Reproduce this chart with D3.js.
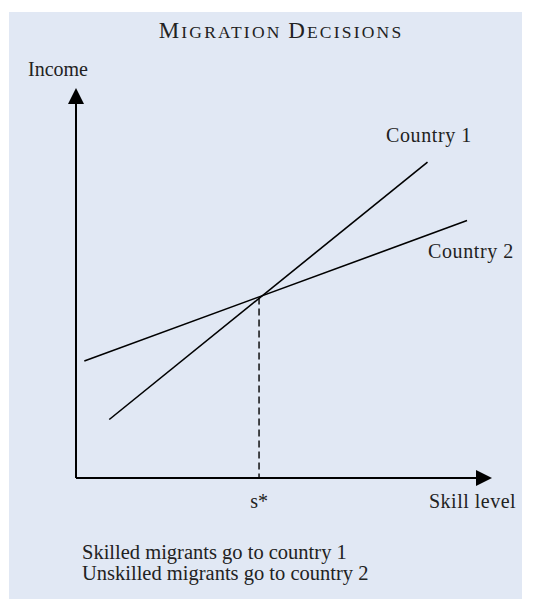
<!DOCTYPE html>
<html>
<head>
<meta charset="utf-8">
<script src="https://cdn.jsdelivr.net/npm/d3@7"></script>
<style>
  body { margin: 0; background: #fff; }
  svg text { font-family: "Liberation Serif", "Times New Roman", serif; fill: #222; }
</style>
</head>
<body>
<script>
//chart values
var countries = ["Country 1", "Country 2"];
var skill1 = [0.8, 8.45],  income1 = [1.5, 8.1];   //country 1 income line
var skill2 = [0.2, 9.4],   income2 = [3.0, 6.6];   //country 2 income line
var sStar = 4.4, incomeAtS = 4.63;                 //crossing point
var axisLabels = ["Skill level", "Income"];
var notes = ["Skilled migrants go to country 1", "Unskilled migrants go to country 2"];

window.onload = drawChart();

function drawChart(){

    var width = 547,
        height = 599;

    var svg = d3.select("body")
        .append("svg")
        .attr("width", width)
        .attr("height", height);

    //light blue panel
    svg.append("rect")
        .attr("x", 9)
        .attr("y", 12)
        .attr("width", 513)
        .attr("height", 590)
        .attr("fill", "#e1e8f4");

    //title in small caps
    var title = svg.append("text")
        .attr("x", 281)
        .attr("y", 38)
        .attr("text-anchor", "middle")
        .attr("letter-spacing", 2.2)
        .attr("fill", "#222");
    title.append("tspan").attr("font-size", 23).text("M");
    title.append("tspan").attr("font-size", 17.5).text("IGRATION ");
    title.append("tspan").attr("font-size", 23).text("D");
    title.append("tspan").attr("font-size", 17.5).text("ECISIONS");

    //scales
    var x = d3.scaleLinear().domain([0, 10]).range([76, 492]);
    var y = d3.scaleLinear().domain([0, 10]).range([478, 88]);

    //axes
    svg.append("line")
        .attr("x1", x(0)).attr("y1", y(0))
        .attr("x2", x(0)).attr("y2", y(10) + 14)
        .attr("stroke", "#000").attr("stroke-width", 2);
    svg.append("line")
        .attr("x1", x(0)).attr("y1", y(0))
        .attr("x2", x(10) - 14).attr("y2", y(0))
        .attr("stroke", "#000").attr("stroke-width", 2);

    //arrow heads
    svg.append("path")
        .attr("d", "M" + x(0) + "," + y(10) + "L" + (x(0) - 8) + "," + (y(10) + 16) + "L" + (x(0) + 8) + "," + (y(10) + 16) + "Z")
        .attr("fill", "#000");
    svg.append("path")
        .attr("d", "M" + x(10) + "," + y(0) + "L" + (x(10) - 16) + "," + (y(0) - 8) + "L" + (x(10) - 16) + "," + (y(0) + 8) + "Z")
        .attr("fill", "#000");

    //income lines
    var line = d3.line()
        .x(function(d){ return x(d[0]); })
        .y(function(d){ return y(d[1]); });

    var series = [d3.zip(skill1, income1), d3.zip(skill2, income2)];

    svg.selectAll(".income")
        .data(series)
        .enter()
        .append("path")
        .attr("class", "income")
        .attr("d", line)
        .attr("fill", "none")
        .attr("stroke", "#000")
        .attr("stroke-width", 1.6);

    //dashed drop line at s*
    svg.append("line")
        .attr("x1", x(sStar)).attr("y1", y(incomeAtS))
        .attr("x2", x(sStar)).attr("y2", y(0))
        .attr("stroke", "#000")
        .attr("stroke-width", 1.4)
        .attr("stroke-dasharray", "7,4");

    //line labels
    svg.append("text")
        .attr("x", 386).attr("y", 142)
        .attr("font-size", 20)
        .attr("letter-spacing", 0.6)
        .text(countries[0]);
    svg.append("text")
        .attr("x", 428).attr("y", 258)
        .attr("font-size", 20)
        .attr("letter-spacing", 0.6)
        .text(countries[1]);

    //axis labels
    svg.append("text")
        .attr("x", 28).attr("y", 76)
        .attr("font-size", 20)
        .text(axisLabels[1]);
    svg.append("text")
        .attr("x", 429).attr("y", 508)
        .attr("font-size", 20)
        .attr("letter-spacing", 0.5)
        .text(axisLabels[0]);
    svg.append("text")
        .attr("x", x(sStar)).attr("y", 508)
        .attr("text-anchor", "middle")
        .attr("font-size", 20)
        .text("s*");

    //notes under the chart
    svg.selectAll(".note")
        .data(notes)
        .enter()
        .append("text")
        .attr("class", "note")
        .attr("x", 82)
        .attr("y", function(d, i){ return 559 + i * 21; })
        .attr("font-size", 20.5)
        .text(function(d){ return d; });
};
</script>
</body>
</html>
